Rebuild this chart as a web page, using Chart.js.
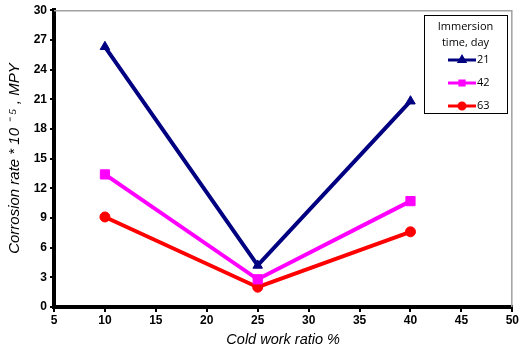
<!DOCTYPE html>
<html>
<head>
<meta charset="utf-8">
<script src="https://cdn.jsdelivr.net/npm/chart.js@4/dist/chart.umd.min.js"></script>
<style>
  html, body { margin: 0; padding: 0; background: #fff; }
  #wrap { width: 520px; height: 353px; }
</style>
</head>
<body>
<div id="wrap"><canvas id="chart" width="520" height="353"></canvas></div>
<script>
// data
const coldWork = [10, 25, 40];
const day21 = [26.3, 4.2, 20.8];
const day42 = [13.4, 2.8, 10.7];
const day63 = [9.1, 2.0, 7.6];
const seriesNames = ['21', '42', '63'];
const xTicks = [5, 10, 15, 20, 25, 30, 35, 40, 45, 50];
const yTicks = [0, 3, 6, 9, 12, 15, 18, 21, 24, 27, 30];

const colors = ['#000080', '#ff00ff', '#ff0000'];
const markers = ['triangle', 'rect', 'circle'];
const markerSize = [5.5, 6.5, 5];

function pts(ys) {
  return coldWork.map((x, i) => ({ x: x, y: ys[i] }));
}

// gray frame on top/right of plot area + legend box
const framePlugin = {
  id: 'frame',
  afterDraw(chart) {
    const ctx = chart.ctx, a = chart.chartArea;
    ctx.save();
    ctx.strokeStyle = '#a0a0a0';
    ctx.lineWidth = 1.5;
    ctx.beginPath();
    ctx.moveTo(a.left, a.top + 0.5);
    ctx.lineTo(a.right - 0.5, a.top + 0.5);
    ctx.lineTo(a.right - 0.5, a.bottom);
    ctx.stroke();

    // legend
    const bx = 424, by = 15, bw = 83, bh = 98;
    ctx.fillStyle = '#fff';
    ctx.fillRect(bx, by, bw, bh);
    ctx.strokeStyle = '#000';
    ctx.lineWidth = 1;
    ctx.strokeRect(bx + 0.5, by + 0.5, bw, bh);
    ctx.fillStyle = '#000';
    ctx.font = '11px "Open Sans", "Liberation Sans", sans-serif';
    ctx.textAlign = 'center';
    ctx.textBaseline = 'middle';
    ctx.fillText('Immersion', bx + bw / 2, by + 12);
    ctx.fillText('time, day', bx + bw / 2, by + 28);
    chart.data.datasets.forEach((ds, i) => {
      const y = by + 45 + i * 23;
      ctx.strokeStyle = ds.borderColor;
      ctx.lineWidth = 3;
      ctx.beginPath();
      ctx.moveTo(bx + 24, y);
      ctx.lineTo(bx + 52, y);
      ctx.stroke();
      ctx.fillStyle = ds.borderColor;
      Chart.helpers.drawPoint(ctx, { pointStyle: ds.pointStyle, radius: 3, borderWidth: 1 }, bx + 38, y);
      ctx.fillStyle = '#000';
      ctx.textAlign = 'left';
      ctx.fillText(ds.label, bx + 53, y);
    });
    ctx.restore();
  }
};

const tickFont = { family: '"Liberation Sans", Arial, sans-serif', size: 12, weight: 'bold' };
const xTitleFont = { family: '"Liberation Sans", Arial, sans-serif', size: 14.5, style: 'italic' };
const yTitleFont = { family: '"Liberation Sans", Arial, sans-serif', size: 15, style: 'italic' };

new Chart(document.getElementById('chart'), {
  type: 'line',
  data: {
    datasets: [day21, day42, day63].map((ys, i) => ({
      label: seriesNames[i],
      data: pts(ys),
      borderColor: colors[i],
      backgroundColor: colors[i],
      borderWidth: 4,
      pointStyle: markers[i],
      pointRadius: markerSize[i],
      pointHoverRadius: markerSize[i],
      pointBorderWidth: 1,
      tension: 0
    }))
  },
  options: {
    responsive: false,
    animation: false,
    layout: { padding: { left: 2, right: 6, top: 10, bottom: 0 } },
    plugins: { legend: { display: false }, tooltip: { enabled: false } },
    scales: {
      x: {
        type: 'linear',
        min: 5, max: 50,
        afterBuildTicks: s => { s.ticks = xTicks.map(v => ({ value: v })); },
        afterFit: s => { s.height = 46; },
        ticks: { font: tickFont, color: '#000', padding: 1, maxRotation: 0 },
        grid: { drawOnChartArea: false, color: '#000', tickLength: 5, lineWidth: 2 },
        border: { color: '#000', width: 4 },
        title: { display: true, text: 'Cold work ratio %', font: xTitleFont, color: '#000', padding: { top: 5 } }
      },
      y: {
        min: 0, max: 30,
        afterBuildTicks: s => { s.ticks = yTicks.map(v => ({ value: v })); },
        afterFit: s => { s.width = 52; },
        ticks: { font: tickFont, color: '#000', padding: 3 },
        grid: { drawOnChartArea: false, color: '#000', tickLength: 4, lineWidth: 2 },
        border: { color: '#000', width: 4 },
        title: { display: true, text: 'Corrosion rate * 10 \u207B \u2075 , MPY', font: yTitleFont, color: '#000', padding: { bottom: 2 } }
      }
    }
  },
  plugins: [framePlugin]
});
</script>
</body>
</html>
